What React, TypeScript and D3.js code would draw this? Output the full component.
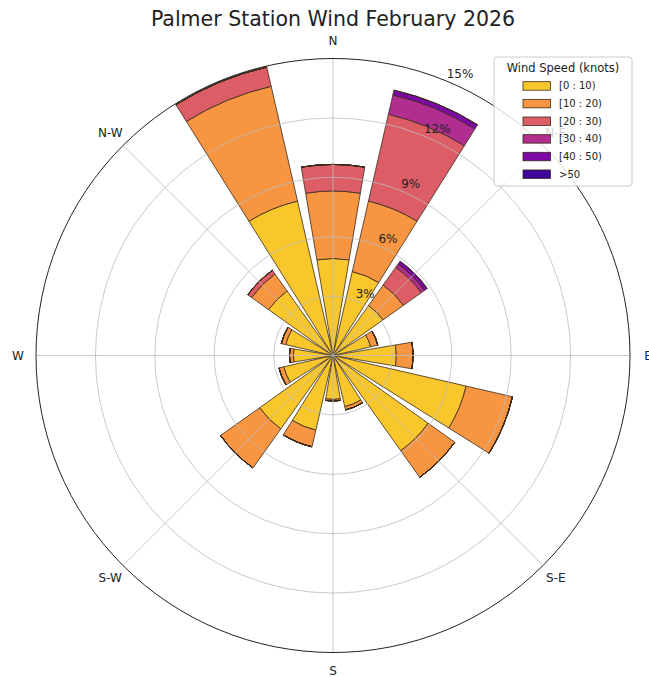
import React from "react";
import * as d3 from "d3";

// 16 compass sectors, clockwise from north
const directions = ["N", "NNE", "NE", "ENE", "E", "ESE", "SE", "SSE", "S", "SSW", "SW", "WSW", "W", "WNW", "NW", "NNW"];
const compassLabels = ["N", "N-E", "E", "S-E", "S", "S-W", "W", "N-W"];
const speedBins = ["[0 : 10)", "[10 : 20)", "[20 : 30)", "[30 : 40)", "[40 : 50)", ">50"];
const binColors = ["#f9c62b", "#f89540", "#dd5d67", "#b12d8f", "#7e08a6", "#3d049b"];

// frequency (%) of each speed bin per direction
const bin0to10 = [4.9, 4.35, 3.1, 1.95, 3.2, 6.9, 5.9, 2.65, 2.22, 3.87, 4.55, 2.55, 2.0, 2.45, 4.0, 8.0];
const bin10to20 = [3.41, 3.65, 1.27, 0.37, 0.85, 2.4, 1.65, 0.17, 0.08, 0.86, 2.42, 0.25, 0.2, 0.23, 1.05, 5.95];
const bin20to30 = [1.34, 4.5, 1.1, 0, 0, 0, 0, 0, 0, 0, 0, 0, 0, 0, 0.23, 1.0];
const bin30to40 = [0, 1.0, 0.2, 0, 0, 0, 0, 0, 0, 0, 0, 0, 0, 0, 0, 0];
const bin40to50 = [0, 0.25, 0.17, 0, 0, 0, 0, 0, 0, 0, 0, 0, 0, 0, 0, 0];
const binOver50 = [0, 0, 0, 0, 0, 0, 0, 0, 0, 0, 0, 0, 0, 0, 0, 0];

const radialTicks = [3, 6, 9, 12, 15];
const rMax = 15;

const W = 649;
const H = 677;
const cx = 333;
const cy = 355.5;
const R = 297;

export default function App() {
  const series = [bin0to10, bin10to20, bin20to30, bin30to40, bin40to50, binOver50];
  const r = d3.scaleLinear().domain([0, rMax]).range([0, R]);
  const step = (2 * Math.PI) / directions.length;
  const opening = step * 0.85;
  const arc = d3.arc();

  const segs = [];
  directions.forEach((dir, i) => {
    let base = 0;
    series.forEach((s, b) => {
      const v = s[i];
      segs.push({
        key: dir + b,
        color: binColors[b],
        d: arc({
          innerRadius: r(base),
          outerRadius: r(base + v),
          startAngle: i * step - opening / 2,
          endAngle: i * step + opening / 2,
        }),
      });
      base += v;
    });
  });

  const font = "'DejaVu Sans', sans-serif";

  return (
    <div style={{ position: "absolute", left: 0, top: 0 }}>
      <svg width={W} height={H} style={{ display: "block", background: "#fff" }}>
        <text x={cx} y={26} textAnchor="middle" fontFamily={font} fontSize={20.5} fill="#222">
          Palmer Station Wind February 2026
        </text>
        <g transform={`translate(${cx},${cy})`}>
          {segs.map((s) => (
            <path key={s.key} d={s.d} fill={s.color} stroke="#3a2a1c" strokeWidth={0.8} />
          ))}
          {radialTicks.slice(0, -1).map((t) => (
            <circle key={t} r={r(t)} fill="none" stroke="#bbbbbb" strokeWidth={0.8} />
          ))}
          {compassLabels.map((l, i) => {
            const a = (i * Math.PI) / 4;
            return (
              <line key={l} x1={0} y1={0} x2={R * Math.sin(a)} y2={-R * Math.cos(a)} stroke="#bbbbbb" strokeWidth={0.8} />
            );
          })}
          <circle r={R} fill="none" stroke="#222" strokeWidth={1} />
          {radialTicks.map((t) => {
            const a = Math.PI / 8;
            return (
              <text key={t} x={r(t) * Math.sin(a)} y={-r(t) * Math.cos(a) - 3} fontFamily={font} fontSize={12} fill="#222">
                {t}%
              </text>
            );
          })}
          {compassLabels.map((l, i) => {
            const a = (i * Math.PI) / 4;
            return (
              <text key={l} x={315 * Math.sin(a)} y={-315 * Math.cos(a)} textAnchor="middle" dominantBaseline="central" fontFamily={font} fontSize={12} fill="#222">
                {l}
              </text>
            );
          })}
        </g>
        <g transform="translate(494,57)">
          <rect width={138} height={129} rx={3} fill="#fff" fillOpacity={0.8} stroke="#cccccc" />
          <text x={69} y={14.5} textAnchor="middle" fontFamily={font} fontSize={11.5} fill="#222">
            Wind Speed (knots)
          </text>
          {speedBins.map((b, i) => (
            <g key={b} transform={`translate(0,${24.7 + i * 17.65})`}>
              <rect x={29} width={27.5} height={8.5} fill={binColors[i]} stroke="#3a2a1c" strokeWidth={0.8} />
              <text x={65} y={4.25} dominantBaseline="central" fontFamily={font} fontSize={10} fill="#222">
                {b}
              </text>
            </g>
          ))}
        </g>
      </svg>
    </div>
  );
}
